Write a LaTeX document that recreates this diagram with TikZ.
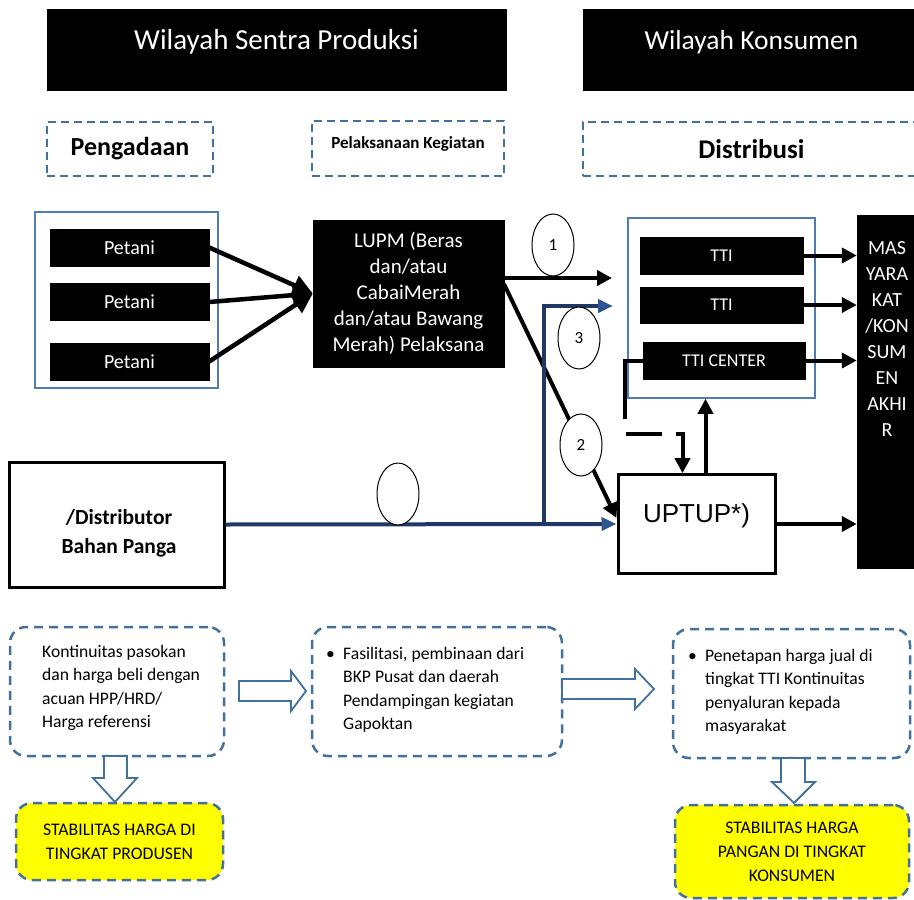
\documentclass[tikz,border=0pt]{standalone}
\usepackage{fontspec}
\setmainfont{Carlito}
\newfontfamily\arialfont{Liberation Sans}
\usetikzlibrary{positioning, shapes.geometric, arrows.meta}
\definecolor{dashblue}{RGB}{65,113,156}
\definecolor{frameblue}{RGB}{80,125,175}
\definecolor{navyline}{RGB}{31,56,100}
\definecolor{navytip}{RGB}{47,85,151}
\definecolor{signyellow}{RGB}{255,255,0}
\newcommand{\fsz}[2]{\fontsize{#1}{#2}\selectfont}
\newcommand{\notebullet}{\makebox[17pt][l]{\textbullet}}
\newcommand{\noteindent}{\hspace*{17pt}}

\tikzset{
  blackbox/.style={draw=black, fill=black, text=white, inner sep=0pt, align=center},
  headbox/.style={blackbox, font=\fsz{29}{34}},
  dashbox/.style={draw=dashblue, line width=2.2pt, dash pattern=on 8pt off 5pt, inner sep=0pt},
  groupbox/.style={draw=frameblue, line width=1.6pt, inner sep=0pt},
  notebox/.style={dashbox, rounded corners=16pt, line width=2.5pt, dash pattern=on 9pt off 6pt},
  goalbox/.style={notebox, fill=signyellow, align=center, font=\fsz{17.7}{24}},
  notetext/.style={inner sep=0pt, align=left, font=\fsz{17.6}{23.5}},
  flow/.style={line width=4pt, -{Triangle[length=15pt,width=15pt]}},
  bigflow/.style={line width=4.5pt, -{Triangle[length=20pt,width=20pt]}},
  supply/.style={draw=navyline, line width=4pt, -{Triangle[length=15pt,width=13pt,color=navytip]}},
  stage/.style={draw=black, fill=white, ellipse, minimum width=42pt, minimum height=62pt,
    line width=1pt, inner sep=0pt, font=\fsz{17}{20}},
  blockarrow/.style={draw=dashblue, fill=white, line width=1.8pt, line join=miter},
}

\begin{document}
\begin{tikzpicture}[x=1pt, y=-1pt]
\useasboundingbox (0,0) rectangle (914,900);
\clip (0,0) rectangle (914,900);

% headers
\node[headbox, minimum width=459pt, text height=40pt, text depth=41pt, anchor=base] (prodhead) at (276.5,49) {Wilayah Sentra Produksi};
\node[headbox, minimum width=337pt, text height=40pt, text depth=41pt, anchor=base, font=\fsz{27.5}{34}] (konshead) at (751.5,49) {Wilayah Konsumen};

\node[dashbox, minimum width=166pt, minimum height=54pt, font=\bfseries\fsz{26}{28}] (pengadaan) at (130,149) {Pengadaan};
\node[dashbox, minimum width=192pt, text height=27pt, text depth=28pt, anchor=base, font=\bfseries\fsz{17}{19}] (pelaksanaan) at (408,148) {Pelaksanaan Kegiatan};
\node[dashbox, minimum width=337pt, minimum height=54pt, font=\bfseries\fsz{27}{28}] (distribusi) at (751.5,149) {Distribusi};

% production side
\node[groupbox, minimum width=183pt, minimum height=176pt] (farmgroup) at (126.5,300) {};
\node[blackbox, minimum width=159pt, minimum height=37pt, font=\fsz{20}{22}] (petani1) at (129.5,247.5) {Petani};
\node[blackbox, minimum width=159pt, minimum height=37pt, font=\fsz{20}{22}] (petani2) at (129.5,302) {Petani};
\node[blackbox, minimum width=159pt, minimum height=37pt, font=\fsz{20}{22}] (petani3) at (129.5,361.5) {Petani};
\node[blackbox, minimum width=191pt, minimum height=147pt, font=\fsz{21}{26}] (lupm) at (408.5,293.5) {LUPM (Beras\\dan/atau\\CabaiMerah\\dan/atau Bawang\\Merah) Pelaksana};

\node[draw=black, line width=3pt, minimum width=215pt, minimum height=125pt] (distributor) at (116.5,524.5) {};
\node[font=\bfseries\fsz{21.5}{29}, align=center, inner sep=0pt] (distribtext) at (119,533) {/Distributor\\Bahan Panga};

% consumer side
\node[groupbox, minimum width=187pt, minimum height=180pt] (ttigroup) at (721.5,308) {};
\node[blackbox, minimum width=163pt, minimum height=37pt, font=\fsz{18}{20}] (tti1) at (721.5,255.5) {TTI};
\node[blackbox, minimum width=163pt, minimum height=36pt, font=\fsz{18}{20}] (tti2) at (721.5,305) {TTI};
\node[blackbox, minimum width=162pt, minimum height=37pt, font=\fsz{18}{20}] (tticenter) at (724,360.5) {TTI CENTER};
\node[blackbox, minimum width=60pt, minimum height=353pt] (masy) at (887,391.5) {};
\node[text=white, align=center, font=\fsz{20}{26}, anchor=north, inner sep=0pt] (masytext) at (887,241) {MAS\\YARA\\KAT\\/KON\\SUM\\EN\\AKHI\\R};
\node[draw=black, line width=3pt, fill=white, minimum width=157pt, text height=44pt, text depth=48pt, anchor=base, font=\arialfont\fsz{26}{30}] (uptup) at (696.5,522) {UPTUP*)};

\coordinate (in1) at (612,278);
\coordinate (diagstart) at (504,284);
\coordinate (branch) at (544,524);
\coordinate (in3) at (613,306);
\coordinate (loopleft) at (625,434);

% connectors
\foreach \p in {petani1, petani2, petani3}
  \draw[bigflow] (\p.east) -- (lupm.west);
\draw[flow] (lupm.east |- in1) -- (in1);
\draw[flow] (diagstart) -- ([yshift=6pt]uptup.west);
\draw[supply] (distributor.east) -- (uptup.west);
\draw[supply] (branch) |- (in3);
\foreach \t in {tti1, tti2, tticenter}
  \draw[flow] (\t.east) -- (\t.east -| masy.west);
\draw[flow] (uptup.east) -- (uptup.east -| masy.west);
\draw[flow] ([xshift=9pt]uptup.north) -- ([xshift=9pt]uptup.north |- ttigroup.south);
\draw[flow, dash pattern=on 76pt off 16pt on 36pt off 14pt] (tticenter.west) -| (loopleft) -| ([xshift=-14pt]uptup.north);

\node[stage] (stage1) at (553,245) {1};
\node[stage] (stage3) at (579,338) {3};
\node[stage] (stage2) at (581,445) {2};
\node[stage] (stageblank) at (398,494) {};

% notes
\node[notebox, minimum width=214pt, minimum height=129pt] (contnote) at (117,691.5) {};
\node[notetext, anchor=west] (conttext) at (42,688) {Kontinuitas pasokan\\dan harga beli dengan\\acuan HPP/HRD/\\Harga referensi};
\node[notebox, minimum width=250pt, minimum height=129pt] (facnote) at (437,691.5) {};
\node[notetext, anchor=west] (factext) at (326,690) {\notebullet Fasilitasi, pembinaan dari\\\noteindent BKP Pusat dan daerah\\\noteindent Pendampingan kegiatan\\\noteindent Gapoktan};
\node[notebox, minimum width=237pt, minimum height=129pt] (pricenote) at (791.5,693.5) {};
\node[notetext, anchor=west] (pricetext) at (688,692) {\notebullet Penetapan harga jual di\\\noteindent tingkat TTI Kontinuitas\\\noteindent penyaluran kepada\\\noteindent masyarakat};
\node[goalbox, minimum width=207pt, minimum height=77pt] (prodgoal) at (119.5,841.5) {STABILITAS HARGA DI\\TINGKAT PRODUSEN};
\node[goalbox, minimum width=234pt, minimum height=93pt] (consgoal) at (792,851.5) {STABILITAS HARGA\\PANGAN DI TINGKAT\\KONSUMEN};

% block arrows
\draw[blockarrow] (239,681) -- (291,681) -- (291,671) -- (306,691) -- (291,711) -- (291,701) -- (239,701) -- cycle;
\draw[blockarrow] (562,679) -- (635,679) -- (635,669) -- (654,689) -- (635,709) -- (635,699) -- (562,699) -- cycle;
\draw[blockarrow] (104,756) -- (104,778) -- (93,778) -- (115,802) -- (137,778) -- (127,778) -- (127,756) -- cycle;
\draw[blockarrow] (781,758) -- (781,782) -- (772,782) -- (794,803) -- (815,782) -- (805,782) -- (805,758) -- cycle;
\end{tikzpicture}
\end{document}
